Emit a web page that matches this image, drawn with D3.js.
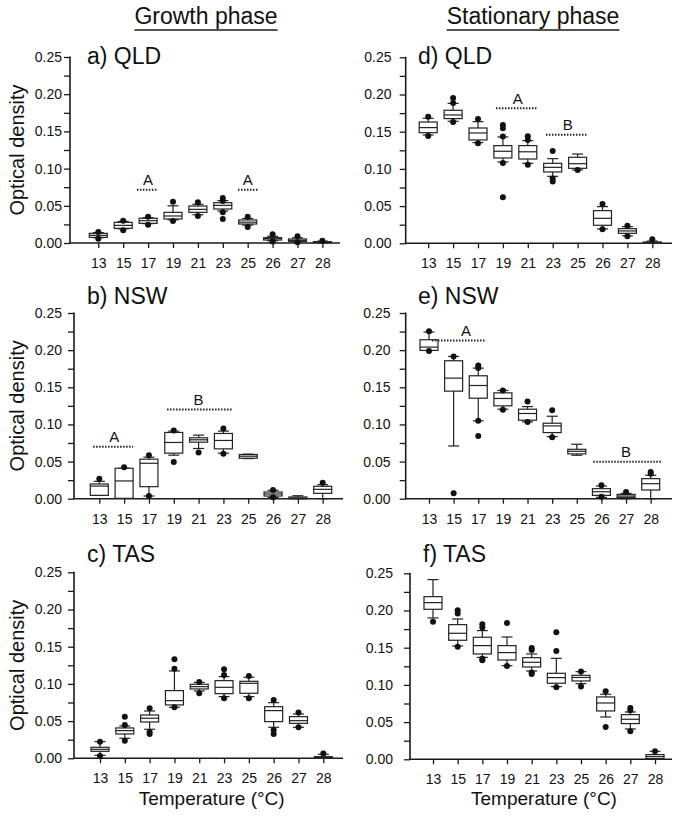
<!DOCTYPE html>
<html>
<head>
<meta charset="utf-8">
<script src="https://cdn.jsdelivr.net/npm/d3@7/dist/d3.min.js"></script>
<style>
  html, body { margin: 0; padding: 0; background: #fff; }
  svg { display: block; }
  text { font-family: "Liberation Sans", Arial, Helvetica, sans-serif; fill: #111; }
</style>
</head>
<body>
<svg id="chart" width="683" height="825"></svg>
<script>
// ---------------- DATA ----------------
const categories = ['13', '15', '17', '19', '21', '23', '25', '26', '27', '28'];
const yTicks = [0, 0.05, 0.10, 0.15, 0.20, 0.25];
const yMinorTicks = [0.025, 0.075, 0.125, 0.175, 0.225];
const columnTitles = ['Growth phase', 'Stationary phase'];
const panelTitles = ['a) QLD', 'b) NSW', 'c) TAS', 'd) QLD', 'e) NSW', 'f) TAS'];
const yAxisTitle = 'Optical density';
const xAxisTitle = 'Temperature (°C)';

// box stats per category: [whiskerLow, q1, median, q3, whiskerHigh]
const qldGrowth = [
  [0.0070, 0.0076, 0.0103, 0.0130, 0.0140],
  [0.0190, 0.0197, 0.0237, 0.0278, 0.0290],
  [0.0260, 0.0264, 0.0300, 0.0332, 0.0340],
  [0.0310, 0.0323, 0.0363, 0.0412, 0.0500],
  [0.0380, 0.0412, 0.0452, 0.0497, 0.0520],
  [0.0430, 0.0457, 0.0506, 0.0542, 0.0570],
  [0.0240, 0.0255, 0.0280, 0.0310, 0.0330],
  [0.0030, 0.0040, 0.0058, 0.0072, 0.0090],
  [0.0015, 0.0022, 0.0036, 0.0054, 0.0070],
  [0.0003, 0.0005, 0.0010, 0.0018, 0.0025]
];
const qldGrowthOutliers = [
  [0.0148, 0.0058], [0.0300, 0.0170], [0.0354, 0.0246], [0.0556, 0.0296], [0.0547, 0.0363],
  [0.0605, 0.0565, 0.0412, 0.0323], [0.0354, 0.0215], [0.0116, 0.0020], [0.0090, 0.0010], [0.0030]
];
const nswGrowth = [
  [0.0045, 0.0045, 0.0170, 0.0198, 0.0234],
  [0.0005, 0.0005, 0.0239, 0.0410, 0.0410],
  [0.0036, 0.0162, 0.0477, 0.0532, 0.0559],
  [0.0586, 0.0613, 0.0757, 0.0892, 0.0910],
  [0.0676, 0.0761, 0.0793, 0.0820, 0.0856],
  [0.0613, 0.0671, 0.0784, 0.0878, 0.0910],
  [0.0540, 0.0545, 0.0572, 0.0595, 0.0600],
  [0.0018, 0.0036, 0.0063, 0.0090, 0.0113],
  [0.0000, 0.0000, 0.0010, 0.0023, 0.0040],
  [0.0000, 0.0072, 0.0126, 0.0167, 0.0189]
];
const nswGrowthOutliers = [
  [0.0270], [0.0423], [0.0586, 0.0036], [0.0919, 0.0495], [0.0622],
  [0.0946, 0.0604], [], [0.0117, 0.0018], [], [0.0216]
];
const tasGrowth = [
  [0.0040, 0.0094, 0.0121, 0.0148, 0.0224],
  [0.0269, 0.0327, 0.0372, 0.0408, 0.0435],
  [0.0390, 0.0488, 0.0538, 0.0582, 0.0636],
  [0.0685, 0.0717, 0.0775, 0.0910, 0.1174],
  [0.0905, 0.0932, 0.0963, 0.0995, 0.1020],
  [0.0829, 0.0869, 0.0954, 0.1044, 0.1098],
  [0.0829, 0.0874, 0.1008, 0.1035, 0.1089],
  [0.0417, 0.0493, 0.0641, 0.0694, 0.0748],
  [0.0417, 0.0470, 0.0506, 0.0560, 0.0596],
  [0.0000, 0.0000, 0.0010, 0.0022, 0.0054]
];
const tasGrowthOutliers = [
  [0.0224, 0.0031], [0.0448, 0.0560, 0.0237], [0.0672, 0.0354, 0.0327], [0.1205, 0.1330, 0.0685],
  [0.1025, 0.0874], [0.1120, 0.1196, 0.0806], [0.1107, 0.0806], [0.0784, 0.0327, 0.0380],
  [0.0614, 0.0417], [0.0063]
];
const qldStationary = [
  [0.1456, 0.1487, 0.1555, 0.1630, 0.1680],
  [0.1640, 0.1676, 0.1725, 0.1788, 0.1880],
  [0.1353, 0.1389, 0.1483, 0.1550, 0.1635],
  [0.1093, 0.1147, 0.1237, 0.1313, 0.1429],
  [0.1075, 0.1133, 0.1230, 0.1313, 0.1380],
  [0.0900, 0.0959, 0.1021, 0.1075, 0.1138],
  [0.0986, 0.1008, 0.1070, 0.1156, 0.1200],
  [0.0193, 0.0242, 0.0336, 0.0439, 0.0493],
  [0.0100, 0.0134, 0.0166, 0.0197, 0.0224],
  [0.0000, 0.0000, 0.0010, 0.0018, 0.0030]
];
const qldStationaryOutliers = [
  [0.1700, 0.1443], [0.1953, 0.1885, 0.1630], [0.1670, 0.1344], [0.1590, 0.1546, 0.1435, 0.1080, 0.0618],
  [0.1438, 0.1390, 0.1057], [0.1240, 0.0870, 0.0829], [0.0986], [0.0529, 0.0190], [0.0237, 0.0094], [0.0054]
];
const nswStationary = [
  [0.1996, 0.1996, 0.2041, 0.2140, 0.2244],
  [0.0710, 0.1448, 0.1623, 0.1857, 0.1915],
  [0.1048, 0.1353, 0.1524, 0.1655, 0.1758],
  [0.1205, 0.1250, 0.1349, 0.1425, 0.1457],
  [0.1034, 0.1057, 0.1147, 0.1205, 0.1240],
  [0.0836, 0.0890, 0.0980, 0.1016, 0.1110],
  [0.0585, 0.0603, 0.0638, 0.0665, 0.0733],
  [0.0018, 0.0045, 0.0094, 0.0135, 0.0171],
  [0.0000, 0.0018, 0.0036, 0.0058, 0.0072],
  [0.0000, 0.0117, 0.0202, 0.0270, 0.0315]
];
const nswStationaryOutliers = [
  [0.2253, 0.1990], [0.1915, 0.0072], [0.1794, 0.1760, 0.1048, 0.0845], [0.1457, 0.1196],
  [0.1308, 0.1034], [0.1190, 0.0827], [], [0.0180, 0.0027], [0.0090], [0.0360, 0.0337]
];
const tasStationary = [
  [0.1900, 0.2016, 0.2106, 0.2186, 0.2415],
  [0.1523, 0.1600, 0.1694, 0.1810, 0.1886],
  [0.1370, 0.1416, 0.1528, 0.1640, 0.1730],
  [0.1259, 0.1335, 0.1434, 0.1528, 0.1644],
  [0.1187, 0.1241, 0.1304, 0.1366, 0.1416],
  [0.0977, 0.1022, 0.1098, 0.1156, 0.1357],
  [0.1017, 0.1053, 0.1100, 0.1129, 0.1178],
  [0.0569, 0.0650, 0.0757, 0.0838, 0.0874],
  [0.0408, 0.0480, 0.0538, 0.0600, 0.0636],
  [0.0000, 0.0009, 0.0036, 0.0063, 0.0108]
];
const tasStationaryOutliers = [
  [0.1850], [0.2003, 0.1960, 0.1514], [0.1815, 0.1770, 0.1330, 0.1350], [0.1832, 0.1255],
  [0.1496, 0.1470, 0.1165, 0.1147], [0.1707, 0.1456, 0.0968], [0.1180, 0.0980], [0.0914, 0.0435],
  [0.0690, 0.0659, 0.0376], [0.0108]
];

// significance groups: [letter, fromIndex, toIndex, letterIndex, yValue]
const qldGrowthGroups = [['A', 1.55, 2.40, 2, 0.0716], ['A', 5.61, 6.45, 6, 0.0716]];
const nswGrowthGroups = [['A', -0.25, 1.36, 0.6, 0.070], ['B', 2.73, 5.39, 4, 0.120]];
const tasGrowthGroups = [];
const qldStationaryGroups = [['A', 2.72, 4.37, 3.6, 0.1815], ['B', 4.73, 6.38, 5.6, 0.146]];
const nswStationaryGroups = [['A', 0.12, 2.32, 1.5, 0.2131], ['B', 6.67, 9.47, 8.0, 0.0499]];
const tasStationaryGroups = [];

// ---------------- LAYOUT ----------------
const panels = [
  { title: panelTitles[0], stats: qldGrowth, out: qldGrowthOutliers, groups: qldGrowthGroups,
    ax: 70, xEnd: 340, yTop: 57, y0: 243, x0: 98.3, x9: 322.4, labR: 62, tx: 87, ty: 64, left: true },
  { title: panelTitles[1], stats: nswGrowth, out: nswGrowthOutliers, groups: nswGrowthGroups,
    ax: 74, xEnd: 343, yTop: 313, y0: 498.7, x0: 99.3, x9: 322.7, labR: 62, tx: 87, ty: 303.5, left: true },
  { title: panelTitles[2], stats: tasGrowth, out: tasGrowthOutliers, groups: tasGrowthGroups,
    ax: 74, xEnd: 343, yTop: 572.3, y0: 758.3, x0: 100, x9: 323.3, labR: 62, tx: 87, ty: 562, left: true, xTitle: true },
  { title: panelTitles[3], stats: qldStationary, out: qldStationaryOutliers, groups: qldStationaryGroups,
    ax: 405.7, xEnd: 672, yTop: 57.3, y0: 243.3, x0: 428.2, x9: 652.3, labR: 391.5, tx: 418, ty: 63.5 },
  { title: panelTitles[4], stats: nswStationary, out: nswStationaryOutliers, groups: nswStationaryGroups,
    ax: 405.7, xEnd: 672, yTop: 313, y0: 498.7, x0: 429, x9: 650.7, labR: 390.5, tx: 418, ty: 303.5 },
  { title: panelTitles[5], stats: tasStationary, out: tasStationaryOutliers, groups: tasStationaryGroups,
    ax: 410, xEnd: 672, yTop: 573.3, y0: 759.3, x0: 433, x9: 655, labR: 393, tx: 423, ty: 562, xTitle: true }
];

const svg = d3.select('#chart');
const INK = '#1a1a1a';
const BOXW = 18, CAPW = 11, DOT_R = 3;

// Column titles
[[206, columnTitles[0]], [533, columnTitles[1]]].forEach(([cx, t]) => {
  const tx = svg.append('text').attr('x', cx).attr('y', 24).attr('text-anchor', 'middle')
    .style('font-size', '23px').text(t);
  const w = tx.node().getComputedTextLength();
  svg.append('line').attr('x1', cx - w / 2).attr('x2', cx + w / 2)
    .attr('y1', 30).attr('y2', 30).attr('stroke', INK).attr('stroke-width', 1.4);
});

panels.forEach(p => {
  const g = svg.append('g');
  const x = d3.scalePoint().domain(categories).range([p.x0, p.x9]);
  const step = x.step();
  const xi = i => p.x0 + i * step;
  const y = d3.scaleLinear().domain([0, 0.25]).range([p.y0, p.yTop]);

  // y axis (major)
  const yAx = g.append('g').attr('transform', `translate(${p.ax},0)`)
    .call(d3.axisLeft(y).tickValues(yTicks).tickFormat(d3.format('.2f'))
      .tickSize(6).tickSizeOuter(0).tickPadding(p.ax - 6 - p.labR));
  yAx.select('.domain').remove();
  yAx.selectAll('line').attr('stroke', INK).attr('stroke-width', 1.3);
  yAx.selectAll('text').style('font-size', '14px').style('font-family', '"Liberation Sans", Arial, sans-serif').attr('fill', INK);
  // y axis minor
  const yMin = g.append('g').attr('transform', `translate(${p.ax},0)`)
    .call(d3.axisLeft(y).tickValues(yMinorTicks).tickFormat('').tickSize(6).tickSizeOuter(0));
  yMin.select('.domain').remove();
  yMin.selectAll('line').attr('stroke', INK).attr('stroke-width', 1.3);
  g.append('line').attr('x1', p.ax).attr('x2', p.ax).attr('y1', y(0.25) - 0.5).attr('y2', p.y0)
    .attr('stroke', INK).attr('stroke-width', 1.6);

  // x axis
  const xAx = g.append('g').attr('transform', `translate(0,${p.y0})`)
    .call(d3.axisBottom(x).tickSize(5).tickSizeOuter(0).tickPadding(6));
  xAx.select('.domain').remove();
  xAx.selectAll('line').attr('stroke', INK).attr('stroke-width', 1.3);
  xAx.selectAll('text').style('font-size', '14px').style('font-family', '"Liberation Sans", Arial, sans-serif')
    .attr('fill', INK).attr('dy', null).attr('y', 25);
  g.append('line').attr('x1', p.ax - 0.8).attr('x2', p.xEnd).attr('y1', p.y0).attr('y2', p.y0)
    .attr('stroke', INK).attr('stroke-width', 1.6);

  // titles
  g.append('text').attr('x', p.tx).attr('y', p.ty).style('font-size', '23px').text(p.title);
  if (p.left) {
    const cy = (p.yTop + p.y0) / 2;
    g.append('text').attr('transform', `translate(24,${cy}) rotate(-90)`).attr('text-anchor', 'middle')
      .style('font-size', '20px').text(yAxisTitle);
  }
  if (p.xTitle) {
    g.append('text').attr('x', (p.x0 + p.x9) / 2).attr('y', 805).attr('text-anchor', 'middle')
      .style('font-size', '19px').text(xAxisTitle);
  }

  // boxes
  const boxes = g.selectAll('g.box').data(p.stats).join('g').attr('class', 'box')
    .attr('transform', (d, i) => `translate(${x(categories[i])},0)`);
  const st = sel => sel.attr('stroke', '#222').attr('stroke-width', 1.2).attr('fill', 'none');
  boxes.append('line').call(st).attr('x1', 0).attr('x2', 0).attr('y1', d => y(d[4])).attr('y2', d => y(d[3]));
  boxes.append('line').call(st).attr('x1', 0).attr('x2', 0).attr('y1', d => y(d[1])).attr('y2', d => y(d[0]));
  boxes.append('line').call(st).attr('x1', -CAPW / 2).attr('x2', CAPW / 2).attr('y1', d => y(d[4])).attr('y2', d => y(d[4]));
  boxes.append('line').call(st).attr('x1', -CAPW / 2).attr('x2', CAPW / 2).attr('y1', d => y(d[0])).attr('y2', d => y(d[0]));
  boxes.append('rect').call(st).attr('fill', '#fff').attr('x', -BOXW / 2).attr('width', BOXW)
    .attr('y', d => y(d[3])).attr('height', d => Math.max(0.5, y(d[1]) - y(d[3])));
  boxes.append('line').call(st).attr('x1', -BOXW / 2).attr('x2', BOXW / 2).attr('y1', d => y(d[2])).attr('y2', d => y(d[2]));

  // outliers
  p.out.forEach((arr, i) => {
    g.selectAll(null).data(arr).join('circle')
      .attr('cx', x(categories[i])).attr('cy', d => y(d)).attr('r', DOT_R).attr('fill', '#111');
  });

  // significance groups
  p.groups.forEach(([lab, a, b, ti, v]) => {
    g.append('line').attr('x1', xi(a)).attr('x2', xi(b)).attr('y1', y(v)).attr('y2', y(v))
      .attr('stroke', '#222').attr('stroke-width', 2).attr('stroke-dasharray', '1.5,1.5');
    g.append('text').attr('x', xi(ti)).attr('y', y(v) - 4.5).attr('text-anchor', 'middle')
      .style('font-size', '15px').text(lab);
  });
});
</script>
</body>
</html>
